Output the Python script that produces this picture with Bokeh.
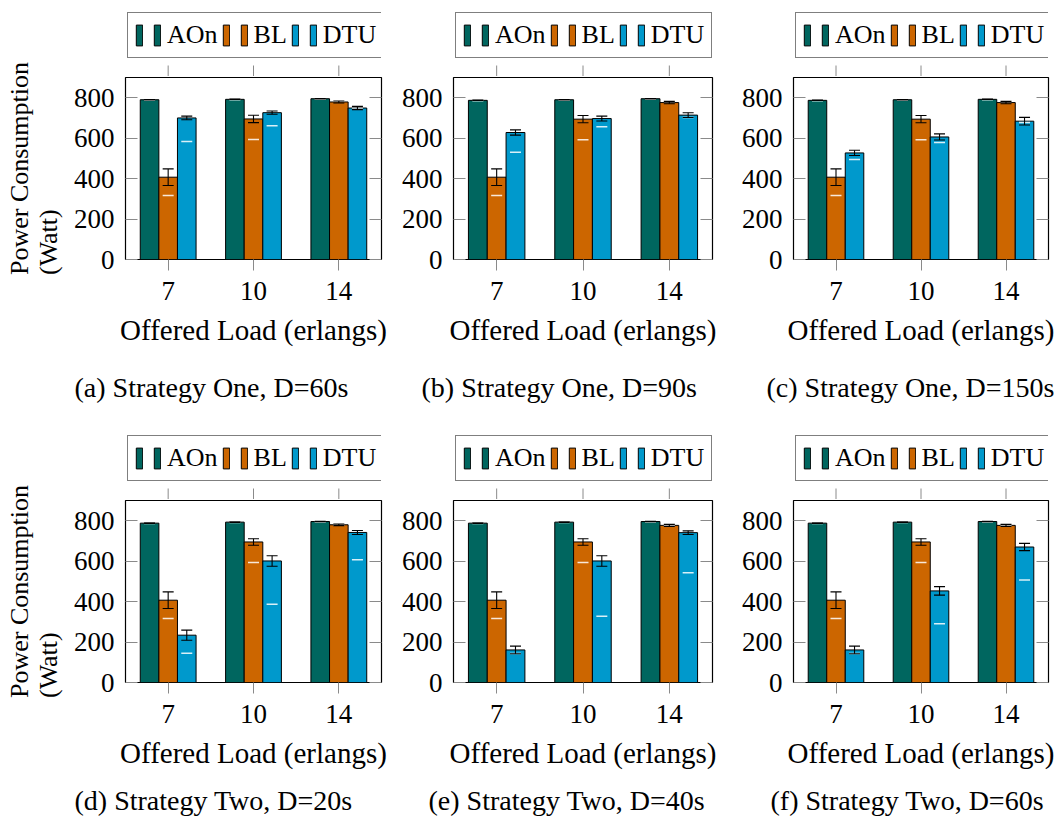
from bokeh.plotting import figure
from bokeh.models import (Range1d, FixedTicker, LinearAxis, Legend, LegendItem,
                          Title, ColumnDataSource)
from bokeh.transform import dodge
from bokeh.layouts import row, column
from bokeh.embed import file_html
from bokeh.resources import INLINE

FONT = "Liberation Serif"
TICK = "#8a8a8a"

loads = ["7", "10", "14"]
series_names = ["AOn", "BL", "DTU"]
series_colors = ["#00665f", "#cc6600", "#0099cc"]
y_ticks = [0, 200, 400, 600, 800]
y_label = "Power Consumption\n(Watt)"
x_label = "Offered Load (erlangs)"

captions = ["(a) Strategy One, D=60s", "(b) Strategy One, D=90s", "(c) Strategy One, D=150s",
            "(d) Strategy Two, D=20s", "(e) Strategy Two, D=40s", "(f) Strategy Two, D=60s"]

# mean power (Watt)
aon_a = [790, 792, 795]; bl_a = [407, 695, 779]; dtu_a = [700, 726, 749]
aon_b = [787, 790, 795]; bl_b = [407, 694, 776]; dtu_b = [628, 697, 714]
aon_c = [787, 790, 792]; bl_c = [407, 694, 776]; dtu_c = [527, 606, 684]
aon_d = [788, 793, 796]; bl_d = [407, 695, 780]; dtu_d = [234, 601, 742]
aon_e = [788, 793, 796]; bl_e = [407, 695, 777]; dtu_e = [161, 601, 741]
aon_f = [788, 793, 796]; bl_f = [407, 695, 777]; dtu_f = [161, 453, 670]

# error half-widths
aon_err = [1, 1, 1]
bl_err_a = [41, 18, 5]; dtu_err_a = [9, 8, 8]
bl_err_b = [41, 18, 6]; dtu_err_b = [13, 12, 12]
bl_err_c = [41, 18, 6]; dtu_err_c = [13, 15, 19]
bl_err_d = [41, 16, 4]; dtu_err_d = [25, 26, 10]
bl_err_e = [41, 16, 5]; dtu_err_e = [19, 26, 9]
bl_err_f = [41, 16, 5]; dtu_err_f = [19, 21, 18]

# white marks drawn inside the bars
aon_w_a = [788, 790, 793]; bl_w_a = [317, 593, 784]; dtu_w_a = [583, 662, 744]
aon_w_b = [785, 788, 793]; bl_w_b = [317, 592, 781]; dtu_w_b = [530, 656, 702]
aon_w_c = [785, 788, 790]; bl_w_c = [317, 592, 781]; dtu_w_c = [494, 579, 678]
aon_w_d = [786, 791, 794]; bl_w_d = [316, 593, 778]; dtu_w_d = [145, 387, 607]
aon_w_e = [786, 791, 794]; bl_w_e = [316, 593, 775]; dtu_w_e = [143, 328, 543]
aon_w_f = [786, 791, 794]; bl_w_f = [316, 593, 775]; dtu_w_f = [143, 290, 507]

panels = [
    ([aon_a, bl_a, dtu_a], [aon_err, bl_err_a, dtu_err_a], [aon_w_a, bl_w_a, dtu_w_a]),
    ([aon_b, bl_b, dtu_b], [aon_err, bl_err_b, dtu_err_b], [aon_w_b, bl_w_b, dtu_w_b]),
    ([aon_c, bl_c, dtu_c], [aon_err, bl_err_c, dtu_err_c], [aon_w_c, bl_w_c, dtu_w_c]),
    ([aon_d, bl_d, dtu_d], [aon_err, bl_err_d, dtu_err_d], [aon_w_d, bl_w_d, dtu_w_d]),
    ([aon_e, bl_e, dtu_e], [aon_err, bl_err_e, dtu_err_e], [aon_w_e, bl_w_e, dtu_w_e]),
    ([aon_f, bl_f, dtu_f], [aon_err, bl_err_f, dtu_err_f], [aon_w_f, bl_w_f, dtu_w_f]),
]

# layout (pixels)
YLAB_W = 70
col_w = [326, 342, 322]
col_left = [52, 57, 51]
frame_w = 259
frame_h = 182
LEG_H = 76            # strip holding legend + top ticks
plot_h = [347, 329]   # plot figure heights per row
LEG_W = 255
LEG_BOTTOM = 18
TICK_LEN = 11
cap_offset = [-51, -32, -27, -51, -25, -23]
cap_standoff = [42, 22]

BAR_W = 0.218
offsets = [-BAR_W, 0.0, BAR_W]


def make_ylabel_fig(r):
    H = LEG_H + plot_h[r]
    f = figure(width=YLAB_W, height=H, output_backend="svg", toolbar_location=None,
               title_location=None, x_axis_type=None, y_axis_type=None,
               min_border_left=0, min_border_right=0,
               min_border_top=LEG_H + 1, min_border_bottom=H - LEG_H - 1 - frame_h)
    f.outline_line_color = None
    f.grid.visible = False
    f.add_layout(Title(text=y_label, align="center", text_font=FONT, text_font_size="26px",
                       text_font_style="normal", text_color="black", standoff=5), "left")
    return f


def make_legend_strip(p):
    lf = figure(width=p.width, height=LEG_H, x_range=p.x_range,
                y_range=Range1d(-LEG_H, 0), output_backend="svg", toolbar_location=None,
                title_location=None, x_axis_type=None, y_axis_type=None,
                min_border_left=p.min_border_left, min_border_right=p.min_border_right,
                min_border_top=0, min_border_bottom=0)
    lf.outline_line_color = None
    lf.grid.visible = False
    lf.background_fill_color = "white"
    lf.border_fill_color = "white"
    # outward x ticks above the frame
    lf.segment(x0=loads, y0=[-LEG_H] * len(loads), x1=loads,
               y1=[-LEG_H + TICK_LEN] * len(loads), line_color=TICK, line_width=1)
    # legend swatches: zero-height bars hidden behind the legend box
    mid = [-LEG_H / 2] * len(loads)
    rends = []
    for k in range(3):
        xs = dodge("x", offsets[k], range=lf.x_range)
        rends.append(lf.vbar(x=xs, top="y", bottom="y", width=BAR_W,
                             source=ColumnDataSource(dict(x=loads, y=mid)),
                             fill_color=series_colors[k], line_color="black", line_width=1))
    items = []
    for name, rr in zip(series_names, rends):
        items.append(LegendItem(label="", renderers=[rr]))
        items.append(LegendItem(label=name, renderers=[rr]))
    leg = Legend(items=items, orientation="horizontal",
                 location=((frame_w - LEG_W) / 2, LEG_BOTTOM),
                 glyph_width=8, glyph_height=26, label_standoff=6, spacing=4,
                 padding=7, margin=0, label_width=0, label_height=0,
                 label_text_font=FONT, label_text_font_size="26px",
                 label_text_color="black",
                 border_line_color="black", border_line_width=1,
                 background_fill_color="white", background_fill_alpha=1)
    lf.add_layout(leg, "center")
    return lf


def make_panel(i):
    r, c = divmod(i, 3)
    means, errs, whites = panels[i]
    W, H = col_w[c], plot_h[r]
    p = figure(x_range=loads, y_range=Range1d(0, 900), width=W, height=H,
               output_backend="svg", toolbar_location=None, title_location=None,
               min_border_left=col_left[c], min_border_right=W - col_left[c] - frame_w,
               min_border_top=1, min_border_bottom=H - 1 - frame_h)
    p.grid.visible = False
    p.outline_line_color = "black"
    p.outline_line_width = 1.2
    p.background_fill_color = "white"
    p.border_fill_color = "white"

    for k in range(3):
        src = ColumnDataSource(dict(
            load=loads, val=means[k],
            lo=[m - e for m, e in zip(means[k], errs[k])],
            hi=[m + e for m, e in zip(means[k], errs[k])],
            w=whites[k]))
        xs = dodge("load", offsets[k], range=p.x_range)
        p.vbar(x=xs, top="val", width=BAR_W, source=src,
               fill_color=series_colors[k], line_color="black", line_width=1)
        p.scatter(x=xs, y="w", source=src, marker="dash", size=11,
                  line_color="white", line_width=1.5, line_alpha=0.85)
        p.segment(x0=xs, y0="lo", x1=xs, y1="hi", source=src,
                  line_color="black", line_width=1.1)
        p.scatter(x=xs, y="lo", source=src, marker="dash", size=11,
                  line_color="black", line_width=1.1)
        p.scatter(x=xs, y="hi", source=src, marker="dash", size=11,
                  line_color="black", line_width=1.1)

    xa = p.xaxis[0]
    xa.axis_label = x_label
    xa.axis_label_text_font = FONT
    xa.axis_label_text_font_size = "29px"
    xa.axis_label_text_font_style = "normal"
    xa.axis_label_text_color = "black"
    xa.axis_label_standoff = 11
    xa.major_label_text_font = FONT
    xa.major_label_text_font_size = "27px"
    xa.major_label_text_color = "black"
    xa.major_label_standoff = 11
    xa.major_tick_out = 11
    xa.major_tick_in = 0
    xa.major_tick_line_color = TICK
    xa.axis_line_color = None

    ya = p.yaxis[0]
    ya.ticker = FixedTicker(ticks=y_ticks)
    ya.major_label_text_font = FONT
    ya.major_label_text_font_size = "27px"
    ya.major_label_text_color = "black"
    ya.major_label_standoff = 11
    ya.major_tick_in = 12
    ya.major_tick_out = 0
    ya.major_tick_line_color = TICK
    ya.minor_tick_line_color = None
    ya.axis_line_color = None

    ra = LinearAxis(ticker=FixedTicker(ticks=y_ticks),
                    major_label_overrides={t: "" for t in y_ticks},
                    major_label_text_font_size="2px",
                    major_label_standoff=0, major_tick_in=12, major_tick_out=0,
                    major_tick_line_color=TICK, minor_tick_line_color=None,
                    axis_line_color=None)
    p.add_layout(ra, "right")

    p.add_layout(Title(text=captions[i], align="left", offset=cap_offset[i],
                       text_font=FONT, text_font_size="28px", text_font_style="normal",
                       text_color="black", standoff=cap_standoff[r]), "below")
    return p


rows = []
for r in range(2):
    kids = [make_ylabel_fig(r)]
    for c in range(3):
        p = make_panel(r * 3 + c)
        kids.append(column(make_legend_strip(p), p))
    rows.append(row(*kids))
layout = column(*rows)

with open("out.html", "w") as f:
    f.write(file_html(layout, INLINE))
